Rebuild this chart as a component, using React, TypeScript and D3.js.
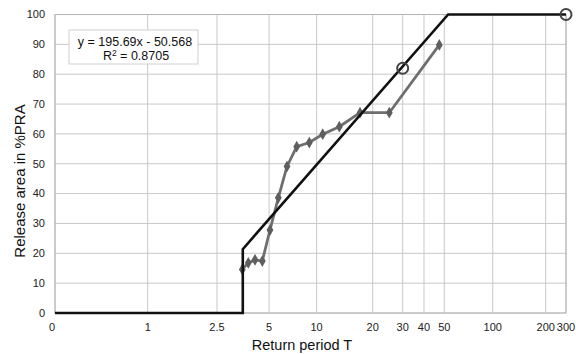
import React from "react";
import * as d3 from "d3";

// x is the transformed (probability) variable 0..1 used in the regression
const tickX = [0, 0.1814, 0.317, 0.419, 0.512, 0.6217, 0.6804, 0.7221, 0.7618, 0.8566, 0.9603, 1.0];
const tickLabels = ["0", "1", "2.5", "5", "10", "20", "30", "40", "50", "100", "200", "300"];
const yTicks = [0, 10, 20, 30, 40, 50, 60, 70, 80, 90, 100];

const obsX = [0.3665, 0.3783, 0.3914, 0.4057, 0.4207, 0.437, 0.454, 0.473, 0.4977, 0.5239, 0.5564, 0.5969, 0.6542, 0.7521];
const obsY = [14.6, 16.8, 17.8, 17.4, 27.8, 38.6, 49.1, 55.7, 57.1, 59.9, 62.4, 67.1, 67.1, 89.8];

const modelX = [0, 0.3675, 0.3675, 0.7694, 1.0];
const modelY = [0, 0, 21.4, 100, 100];

const circleX = [0.6804, 1.0];
const circleY = [82, 100];

const eqLine1 = "y = 195.69x - 50.568";
const eqR2 = "0.8705";

const W = 576, H = 354;
const M = { left: 55, right: 566, top: 14.5, bottom: 313 };

export default function App() {
  const x = d3.scaleLinear().domain([0, 1]).range([M.left, M.right]);
  const y = d3.scaleLinear().domain([0, 100]).range([M.bottom, M.top]);
  const font = "'Liberation Sans', Arial, sans-serif";
  const line = d3.line<[number, number]>().x(d => x(d[0])).y(d => y(d[1]));
  const obs: [number, number][] = obsX.map((v, i) => [v, obsY[i]]);
  const model: [number, number][] = modelX.map((v, i) => [v, modelY[i]]);
  const grid = "#c8c8c8";
  return (
    <svg width={W} height={H} style={{ position: "absolute", left: 0, top: 0, background: "#fff" }} fontFamily={font}>
      <rect x={0} y={0} width={W} height={H} fill="#fff" />
      {yTicks.map(t => (
        <line key={"gy" + t} x1={M.left} x2={M.right} y1={y(t)} y2={y(t)} stroke={grid} strokeWidth={1} />
      ))}
      {tickX.map((t, i) => (
        <line key={"gx" + i} x1={x(t)} x2={x(t)} y1={M.top} y2={M.bottom} stroke={grid} strokeWidth={1} />
      ))}
      <rect x={M.left} y={M.top} width={M.right - M.left} height={M.bottom - M.top} fill="none" stroke="#b4b4b4" strokeWidth={1} />
      {yTicks.map(t => (
        <text key={"ty" + t} x={45} y={y(t)} dy="0.35em" textAnchor="end" fontSize={11} fill="#222">{t}</text>
      ))}
      {tickX.map((t, i) => (
        <text key={"tx" + i} x={i === 0 ? x(t) - 3 : x(t)} y={331} textAnchor="middle" fontSize={11} fill="#222">{tickLabels[i]}</text>
      ))}
      <text x={302} y={350} textAnchor="middle" fontSize={14.5} fill="#111">Return period T</text>
      <text transform="translate(25,181) rotate(-90)" textAnchor="middle" fontSize={15} fill="#111">Release area in %PRA</text>

      <path d={line(obs) || ""} fill="none" stroke="#6e6e6e" strokeWidth={2.8} />
      {obs.map((d, i) => (
        <path key={"m" + i} d={d3.symbol(d3.symbolDiamond, 40)() || ""} transform={`translate(${x(d[0])},${y(d[1])})`} fill="#5e5e5e" />
      ))}
      <path d={line(model) || ""} fill="none" stroke="#111" strokeWidth={2.6} />
      {circleX.map((v, i) => (
        <circle key={"c" + i} cx={x(v)} cy={y(circleY[i])} r={5.5} fill="none" stroke="#444" strokeWidth={2} />
      ))}

      <rect x={69} y={30} width={129} height={34} fill="#fff" stroke="#d0d0d0" strokeWidth={1} />
      <text x={135} y={41.5} dy="0.35em" textAnchor="middle" fontSize={12.5} fill="#111">{eqLine1}</text>
      <text x={136} y={56} dy="0.35em" textAnchor="middle" fontSize={12.5} fill="#111">
        R<tspan fontSize={8.5} dy="-4.5">2</tspan><tspan dy="4.5"> = {eqR2}</tspan>
      </text>
    </svg>
  );
}
